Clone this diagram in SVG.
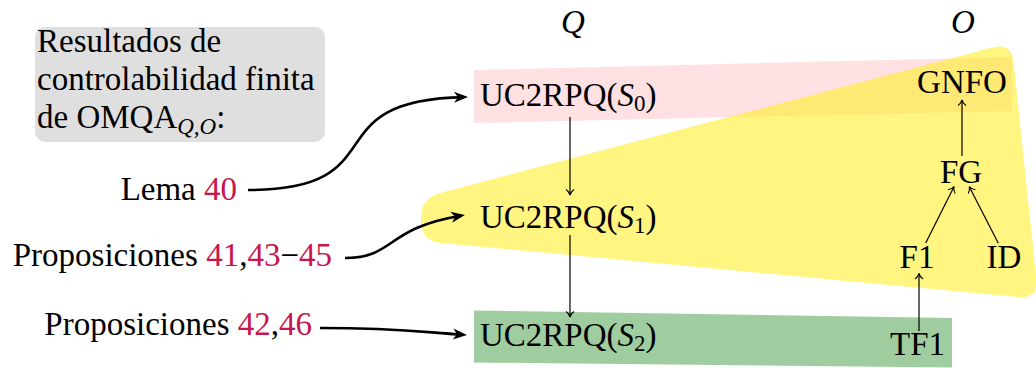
<svg xmlns="http://www.w3.org/2000/svg" width="1036" height="368" viewBox="0 0 1036 368">
<style>
text{font-family:"Liberation Serif","Times New Roman",serif;font-size:33px;fill:#000}
.it{font-style:italic}
.ref{fill:#c8164c}
.sub{font-size:23px}
.thin{fill:none;stroke:#000;stroke-width:1.2}
.thick{fill:none;stroke:#000;stroke-width:2.6}
</style>
<defs>
<marker id="hd" viewBox="-7 -5 8 10" refX="0" refY="0" markerWidth="8" markerHeight="10" markerUnits="userSpaceOnUse" orient="auto">
<path d="M-5.5,-4 C-3.8,-1.6 -1.6,-0.4 0,0 C-1.6,0.4 -3.8,1.6 -5.5,4" fill="none" stroke="#000" stroke-width="1.1"/>
</marker>
<marker id="st" viewBox="-15 -7 16 14" refX="-4" refY="0" markerWidth="16" markerHeight="14" markerUnits="userSpaceOnUse" orient="auto">
<path d="M0,0 L-14,-5.5 L-10,0 L-14,5.5 Z" fill="#000"/>
</marker>
</defs>

<g id="regions">
<polygon id="pink-band" points="474,70 1012,57 1012,111 474,123" fill="#ffe1e4"/>
<path id="yellow-region" d="M440.3,192.9 L992.2,47.6 Q1011.5,42.5 1013.6,62.4 L1036.4,279.1 Q1038.5,299 1018.6,297.1 L440.9,242.9 Q421,241 421,221 L421,218 Q421,198 440.3,192.9 Z" fill="#ffee2b" fill-opacity="0.6"/>
<polygon id="green-band" points="474,310.5 952,318 952,367.5 474,362.5" fill="#9fcd9f"/>
</g>

<g id="title">
<rect x="35" y="27" width="290" height="115" rx="10" fill="#dfdfdf"/>
<text x="37" y="52">Resultados de</text>
<text x="37" y="90">controlabilidad finita</text>
<text x="37" y="128">de OMQA<tspan class="it sub" dy="6">Q,O</tspan><tspan dy="-6">:</tspan></text>
</g>

<g id="header-Q"><text x="573" y="33" text-anchor="middle" class="it">Q</text></g>
<g id="header-O"><text x="963" y="33" text-anchor="middle" class="it">O</text></g>

<g id="lema40"><text x="237" y="200" text-anchor="end">Lema <tspan class="ref">40</tspan></text></g>
<g id="prop41"><text x="332" y="266" text-anchor="end">Proposiciones <tspan class="ref">41</tspan>,<tspan class="ref">43</tspan>−<tspan class="ref">45</tspan></text></g>
<g id="prop42"><text x="312" y="335" text-anchor="end">Proposiciones <tspan class="ref">42</tspan>,<tspan class="ref">46</tspan></text></g>

<g id="s0"><text x="480" y="106">UC2RPQ(<tspan class="it">S</tspan><tspan class="sub" dy="5">0</tspan><tspan dy="-5">)</tspan></text></g>
<g id="s1"><text x="480" y="228">UC2RPQ(<tspan class="it">S</tspan><tspan class="sub" dy="5">1</tspan><tspan dy="-5">)</tspan></text></g>
<g id="s2"><text x="480" y="346">UC2RPQ(<tspan class="it">S</tspan><tspan class="sub" dy="5">2</tspan><tspan dy="-5">)</tspan></text></g>

<g id="gnfo"><text x="962" y="93" text-anchor="middle">GNFO</text></g>
<g id="fg"><text x="961" y="183" text-anchor="middle">FG</text></g>
<g id="f1"><text x="917" y="268" text-anchor="middle">F1</text></g>
<g id="id"><text x="1004" y="268" text-anchor="middle">ID</text></g>
<g id="tf1"><text x="917.5" y="355" text-anchor="middle">TF1</text></g>

<g id="connectors">
<path class="thin" d="M570,117 L570,195" marker-end="url(#hd)"/>
<path class="thin" d="M570,235 L570,317" marker-end="url(#hd)"/>
<path class="thin" d="M962,156 L962,100" marker-end="url(#hd)"/>
<path class="thin" d="M925.7,243 L954,186.7" marker-end="url(#hd)"/>
<path class="thin" d="M998.3,243.3 L969.3,186.7" marker-end="url(#hd)"/>
<path class="thin" d="M919,331 L919,273.5" marker-end="url(#hd)"/>
<path class="thick" d="M248,190 C400,190 310,100 464,97.1" marker-end="url(#st)"/>
<path class="thick" d="M345,258 C395,258 385,228 461,215.7" marker-end="url(#st)"/>
<path class="thick" d="M320,328 C400,328 420,332 463,334.7" marker-end="url(#st)"/>
</g>
</svg>
